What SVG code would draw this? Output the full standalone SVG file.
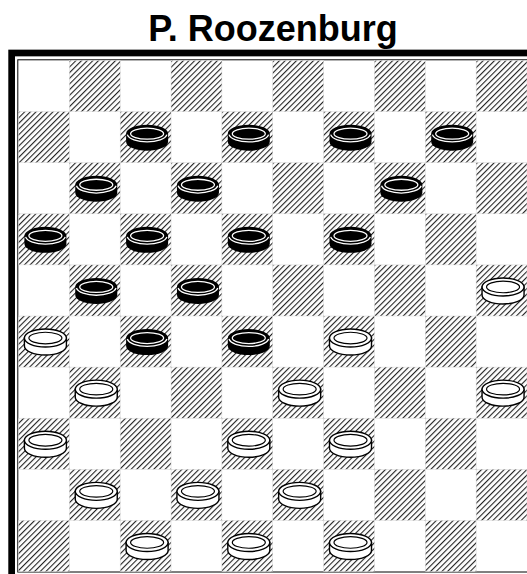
<svg xmlns="http://www.w3.org/2000/svg" xmlns:xlink="http://www.w3.org/1999/xlink" width="527" height="574" viewBox="0 0 527 574">
<style>
.title{font-family:"Liberation Sans",Arial,sans-serif;font-weight:bold;font-size:36px;fill:#000}
.dark{fill:url(#hatch);stroke:#d8d8d8;stroke-width:0.5}
</style>
<defs>
<pattern id="hatch" patternUnits="userSpaceOnUse" width="4" height="10" patternTransform="rotate(45)">
<rect width="4" height="10" fill="#fff"/>
<line x1="0.6" y1="0" x2="0.6" y2="10" stroke="#000" stroke-width="0.95"/>
</pattern>
<g id="bp">
<path d="M-21,-4 A21,9 0 0 1 21,-4 L21,4 A21,9 0 0 1 -21,4 Z" fill="#000"/>
<path d="M-19.8,-3 A20,8.5 0 0 0 19.8,-3" fill="none" stroke="#fff" stroke-width="1.3"/>
<ellipse cx="0" cy="-4" rx="16.5" ry="5.5" fill="none" stroke="#fff" stroke-width="1.3"/>
</g>
<g id="wp">
<path d="M-21,-4 L-21,4 A21,9 0 0 0 21,4 L21,-4 Z" fill="#fff" stroke="#000" stroke-width="1.4"/>
<ellipse cx="0" cy="-4" rx="21" ry="9" fill="#fff" stroke="#000" stroke-width="1.4"/>
<ellipse cx="0" cy="-4" rx="16.5" ry="5.8" fill="none" stroke="#000" stroke-width="1.2"/>
</g>
</defs>
<rect width="527" height="574" fill="#fff"/>
<text class="title" x="273" y="41" text-anchor="middle">P. Roozenburg</text>
<g id="frame">
<rect x="11.65" y="53" width="530" height="530" fill="none" stroke="#000" stroke-width="6.7"/>
<rect x="17.8" y="59.8" width="520" height="512.2" fill="none" stroke="#000" stroke-width="1"/>
</g>
<g id="board">
<rect class="dark" x="69.35" y="60.5" width="50.85" height="51.1"/>
<rect class="dark" x="171.05" y="60.5" width="50.85" height="51.1"/>
<rect class="dark" x="272.75" y="60.5" width="50.85" height="51.1"/>
<rect class="dark" x="374.45" y="60.5" width="50.85" height="51.1"/>
<rect class="dark" x="476.15" y="60.5" width="50.85" height="51.1"/>
<rect class="dark" x="18.5" y="111.6" width="50.85" height="51.1"/>
<rect class="dark" x="120.2" y="111.6" width="50.85" height="51.1"/>
<rect class="dark" x="221.9" y="111.6" width="50.85" height="51.1"/>
<rect class="dark" x="323.6" y="111.6" width="50.85" height="51.1"/>
<rect class="dark" x="425.3" y="111.6" width="50.85" height="51.1"/>
<rect class="dark" x="69.35" y="162.7" width="50.85" height="51.1"/>
<rect class="dark" x="171.05" y="162.7" width="50.85" height="51.1"/>
<rect class="dark" x="272.75" y="162.7" width="50.85" height="51.1"/>
<rect class="dark" x="374.45" y="162.7" width="50.85" height="51.1"/>
<rect class="dark" x="476.15" y="162.7" width="50.85" height="51.1"/>
<rect class="dark" x="18.5" y="213.8" width="50.85" height="51.1"/>
<rect class="dark" x="120.2" y="213.8" width="50.85" height="51.1"/>
<rect class="dark" x="221.9" y="213.8" width="50.85" height="51.1"/>
<rect class="dark" x="323.6" y="213.8" width="50.85" height="51.1"/>
<rect class="dark" x="425.3" y="213.8" width="50.85" height="51.1"/>
<rect class="dark" x="69.35" y="264.9" width="50.85" height="51.1"/>
<rect class="dark" x="171.05" y="264.9" width="50.85" height="51.1"/>
<rect class="dark" x="272.75" y="264.9" width="50.85" height="51.1"/>
<rect class="dark" x="374.45" y="264.9" width="50.85" height="51.1"/>
<rect class="dark" x="476.15" y="264.9" width="50.85" height="51.1"/>
<rect class="dark" x="18.5" y="316" width="50.85" height="51.1"/>
<rect class="dark" x="120.2" y="316" width="50.85" height="51.1"/>
<rect class="dark" x="221.9" y="316" width="50.85" height="51.1"/>
<rect class="dark" x="323.6" y="316" width="50.85" height="51.1"/>
<rect class="dark" x="425.3" y="316" width="50.85" height="51.1"/>
<rect class="dark" x="69.35" y="367.1" width="50.85" height="51.1"/>
<rect class="dark" x="171.05" y="367.1" width="50.85" height="51.1"/>
<rect class="dark" x="272.75" y="367.1" width="50.85" height="51.1"/>
<rect class="dark" x="374.45" y="367.1" width="50.85" height="51.1"/>
<rect class="dark" x="476.15" y="367.1" width="50.85" height="51.1"/>
<rect class="dark" x="18.5" y="418.2" width="50.85" height="51.1"/>
<rect class="dark" x="120.2" y="418.2" width="50.85" height="51.1"/>
<rect class="dark" x="221.9" y="418.2" width="50.85" height="51.1"/>
<rect class="dark" x="323.6" y="418.2" width="50.85" height="51.1"/>
<rect class="dark" x="425.3" y="418.2" width="50.85" height="51.1"/>
<rect class="dark" x="69.35" y="469.3" width="50.85" height="51.1"/>
<rect class="dark" x="171.05" y="469.3" width="50.85" height="51.1"/>
<rect class="dark" x="272.75" y="469.3" width="50.85" height="51.1"/>
<rect class="dark" x="374.45" y="469.3" width="50.85" height="51.1"/>
<rect class="dark" x="476.15" y="469.3" width="50.85" height="51.1"/>
<rect class="dark" x="18.5" y="520.4" width="50.85" height="51.1"/>
<rect class="dark" x="120.2" y="520.4" width="50.85" height="51.1"/>
<rect class="dark" x="221.9" y="520.4" width="50.85" height="51.1"/>
<rect class="dark" x="323.6" y="520.4" width="50.85" height="51.1"/>
<rect class="dark" x="425.3" y="520.4" width="50.85" height="51.1"/>
</g>
<g id="black-pieces">
<use xlink:href="#bp" href="#bp" x="147.1" y="137.65"/>
<use xlink:href="#bp" href="#bp" x="248.8" y="137.65"/>
<use xlink:href="#bp" href="#bp" x="350.5" y="137.65"/>
<use xlink:href="#bp" href="#bp" x="452.2" y="137.65"/>
<use xlink:href="#bp" href="#bp" x="96.25" y="188.75"/>
<use xlink:href="#bp" href="#bp" x="197.95" y="188.75"/>
<use xlink:href="#bp" href="#bp" x="401.35" y="188.75"/>
<use xlink:href="#bp" href="#bp" x="45.4" y="239.85"/>
<use xlink:href="#bp" href="#bp" x="147.1" y="239.85"/>
<use xlink:href="#bp" href="#bp" x="248.8" y="239.85"/>
<use xlink:href="#bp" href="#bp" x="350.5" y="239.85"/>
<use xlink:href="#bp" href="#bp" x="96.25" y="290.95"/>
<use xlink:href="#bp" href="#bp" x="197.95" y="290.95"/>
<use xlink:href="#bp" href="#bp" x="147.1" y="342.05"/>
<use xlink:href="#bp" href="#bp" x="248.8" y="342.05"/>
</g>
<g id="white-pieces">
<use xlink:href="#wp" href="#wp" x="503.05" y="290.95"/>
<use xlink:href="#wp" href="#wp" x="45.4" y="342.05"/>
<use xlink:href="#wp" href="#wp" x="350.5" y="342.05"/>
<use xlink:href="#wp" href="#wp" x="96.25" y="393.15"/>
<use xlink:href="#wp" href="#wp" x="299.65" y="393.15"/>
<use xlink:href="#wp" href="#wp" x="503.05" y="393.15"/>
<use xlink:href="#wp" href="#wp" x="45.4" y="444.25"/>
<use xlink:href="#wp" href="#wp" x="248.8" y="444.25"/>
<use xlink:href="#wp" href="#wp" x="350.5" y="444.25"/>
<use xlink:href="#wp" href="#wp" x="96.25" y="495.35"/>
<use xlink:href="#wp" href="#wp" x="197.95" y="495.35"/>
<use xlink:href="#wp" href="#wp" x="299.65" y="495.35"/>
<use xlink:href="#wp" href="#wp" x="147.1" y="546.45"/>
<use xlink:href="#wp" href="#wp" x="248.8" y="546.45"/>
<use xlink:href="#wp" href="#wp" x="350.5" y="546.45"/>
</g>
</svg>
